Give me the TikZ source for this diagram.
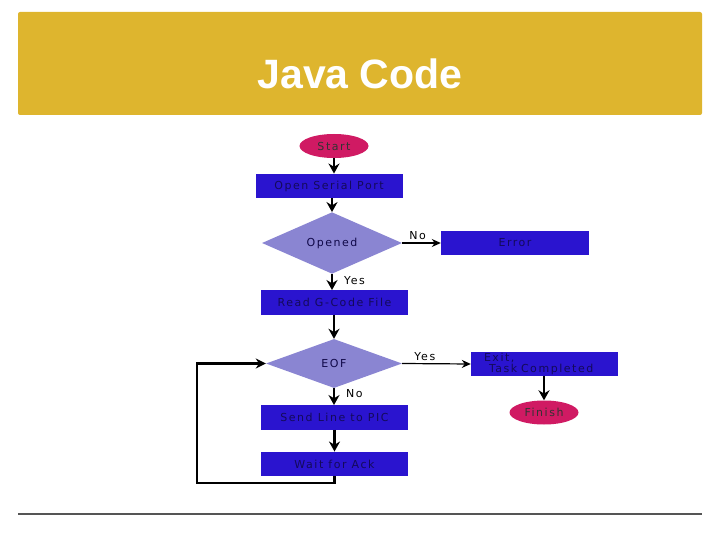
\documentclass[tikz,border=0pt]{standalone}
\usepackage{fontspec}
\usetikzlibrary{shapes.geometric,arrows.meta}
\newfontfamily\titlefont{Liberation Sans}
\newfontfamily\chartfont[LetterSpace=14]{DejaVu Sans}
\definecolor{header}{HTML}{DEB52E}
\definecolor{boxblue}{HTML}{2A14CF}
\definecolor{diamondc}{HTML}{8A85D2}
\definecolor{termc}{HTML}{D01A63}
\definecolor{boxtext}{HTML}{140A5A}
\definecolor{rulec}{HTML}{555555}
\begin{document}
\begin{tikzpicture}[x=1pt,y=-1pt,
  chart/.style={font=\chartfont\fontsize{11}{11.5}\selectfont},
  procbox/.style={chart,rectangle,fill=boxblue,text=boxtext,minimum width=147pt,minimum height=24.5pt,inner sep=0pt},
  decbox/.style={chart,diamond,fill=diamondc,text=boxtext!80!black,minimum width=140pt,minimum height=47pt,inner sep=0pt},
  termbox/.style={chart,ellipse,fill=termc,text=black!80,minimum width=69pt,minimum height=24pt,inner sep=0pt},
  lbl/.style={chart,text=black,inner sep=0pt},
  flow/.style={line width=2.2pt,-{Stealth[length=10pt,width=11pt]}},
  thinflow/.style={line width=1.2pt,-{Stealth[length=9pt,width=8pt]}}
]
\useasboundingbox (0,0) rectangle (720,540);
% header
\fill[header,rounded corners=2pt] (18,12) rectangle (702,115);
\node[text=white,font=\titlefont\bfseries\fontsize{41}{44}\selectfont] (title) at (360,74) {Java Code};
% bottom rule
\draw[rulec,line width=2pt] (18,514) -- (702,514);

% nodes
\node[termbox] (start) at (334,146) {Start};
\node[procbox] (open) at (329,186) {Open Serial Port};
\node[decbox] (opened) at (332,243) {Opened};
\node[procbox,minimum width=148pt] (error) at (515,243) {Error};
\node[procbox] (read) at (334.5,302.5) {Read G-Code File};
\node[decbox,minimum width=136pt,minimum height=49pt] (eof) at (334,363.5) {EOF};
\node[procbox,text width=121pt,align=left] (exit) at (544.5,364) {Exit,\\\hspace*{5pt}Task Completed};
\node[termbox] (finish) at (544,412.5) {Finish};
\node[procbox] (send) at (334.5,417.5) {Send Line to PIC};
\node[procbox] (wait) at (334.5,464) {Wait for Ack};

% connectors
\draw[flow] (start.south) -- (start.south |- open.north);
\draw[flow] (open.south -| opened.north) -- (opened.north);
\draw[thinflow] (opened.east) -- (error.west) node[lbl,pos=0.4,above=3pt] (no1) {No};
\draw[flow] (opened.south) -- (opened.south |- read.north) node[lbl,pos=0.4,right=11pt] (yes1) {Yes};
\draw[flow] (read.south -| eof.north) -- (eof.north);
\draw[thinflow] (eof.east) -- (exit.west) node[lbl,pos=0.33,above=2pt] (yes2) {Yes};
\draw[flow] (exit.south -| finish.north) -- (finish.north);
\draw[flow] (eof.south) -- (eof.south |- send.north) node[lbl,pos=0.3,right=11pt] (no2) {No};
\draw[flow] (send.south) -- (wait.north);
\coordinate (lb) at (334,483);
\coordinate (ll) at (197,483);
\draw[line width=2.5pt,-{Stealth[length=10pt,width=10pt]}] (wait.south) -- (wait.south |- lb) -- (ll) -- (ll |- eof.west) -- (eof.west);
\end{tikzpicture}
\end{document}
